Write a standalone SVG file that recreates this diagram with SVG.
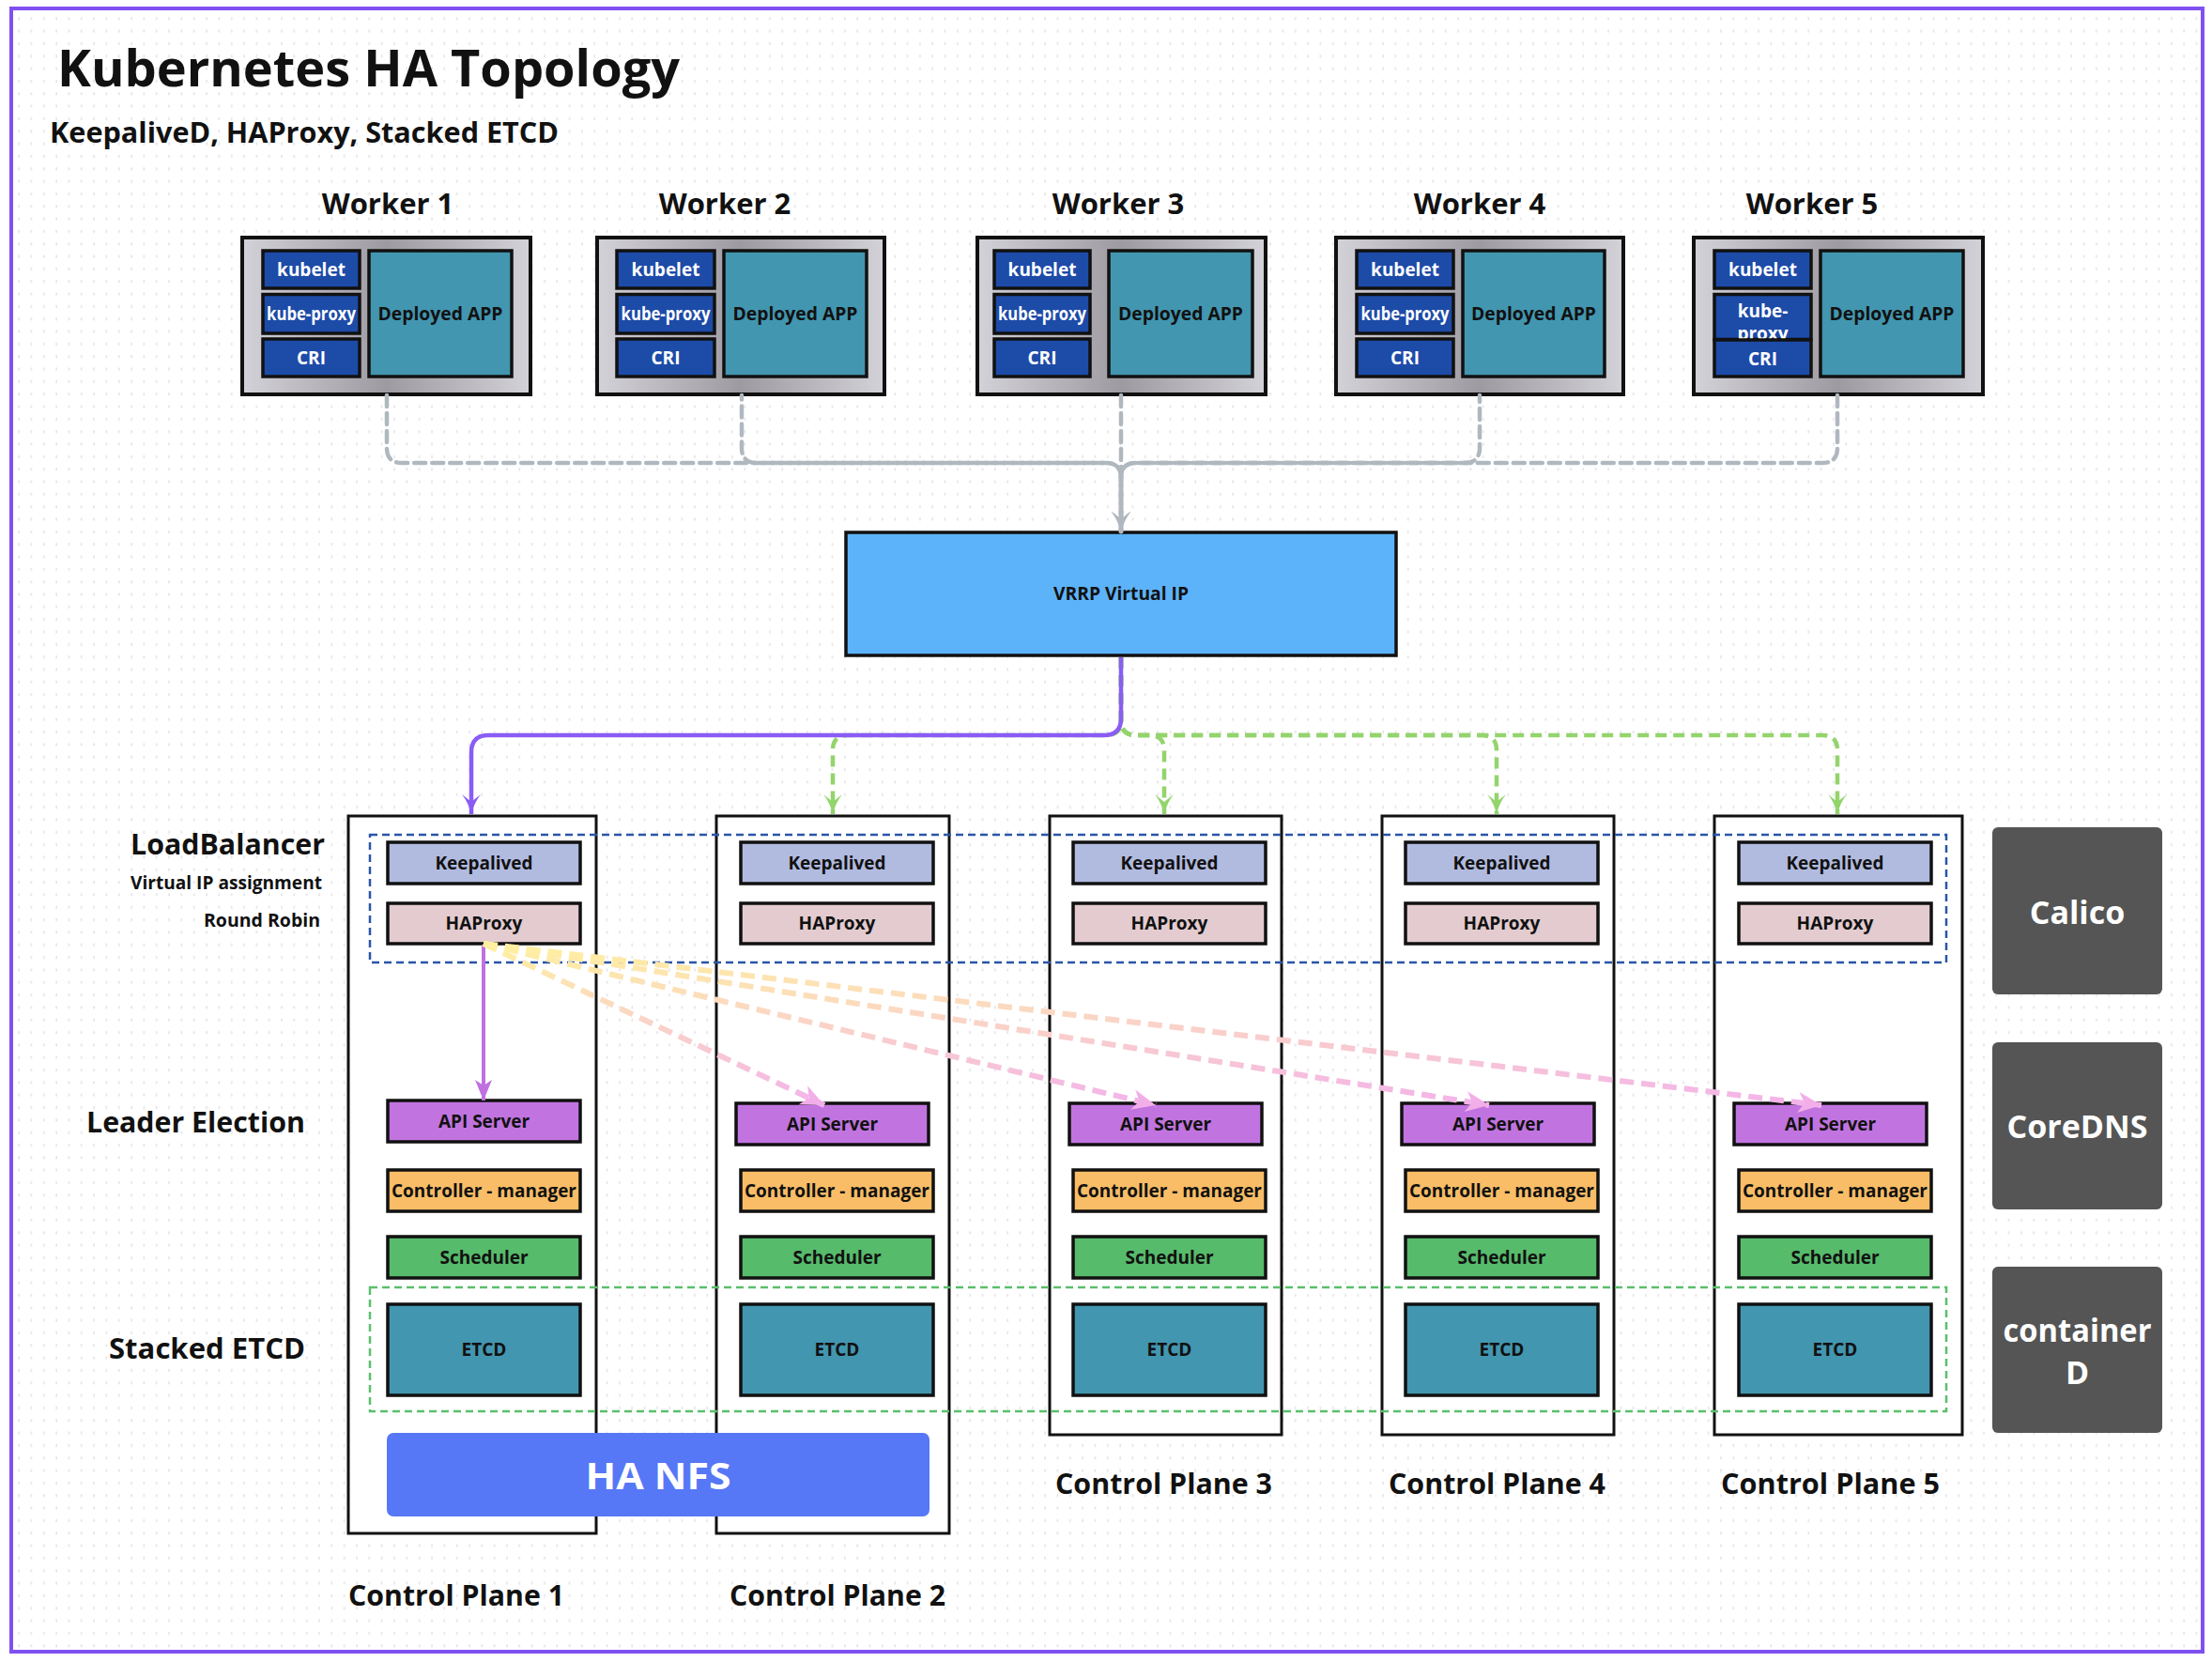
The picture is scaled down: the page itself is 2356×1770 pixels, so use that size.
<svg xmlns="http://www.w3.org/2000/svg" width="2356" height="1770" viewBox="0 0 2356 1770">
<defs>
<style>
text{font-family:"Open Sans","Noto Sans","DejaVu Sans",sans-serif;font-weight:700;fill:#111}
.c{text-anchor:middle}
.r{text-anchor:end}
.wbox{fill:url(#silver);stroke:#111;stroke-width:4}
.kb{fill:#1d4ba8;stroke:#111;stroke-width:3.5}
.app{fill:#4296b0;stroke:#111;stroke-width:3.5}
.wt{fill:#fff;font-size:19px}
.at{font-size:19px}
.cp{fill:#fff;stroke:#111;stroke-width:3}
.ka{fill:#b1bbe0;stroke:#111;stroke-width:3.5}
.hp{fill:#e3cbcf;stroke:#111;stroke-width:3.5}
.api{fill:#c174e0;stroke:#111;stroke-width:3.5}
.cm{fill:#f8bd66;stroke:#111;stroke-width:3.5}
.sc{fill:#56bb6b;stroke:#111;stroke-width:3.5}
.et{fill:#4296b0;stroke:#111;stroke-width:3.5}
.ct{font-size:19px}
.side{fill:#555;}
.st{fill:#fff;font-size:34px}
.lbl{font-size:31px}
.grey{fill:none;stroke:#b0b8bf;stroke-width:4.5;stroke-dasharray:12 7;stroke-linecap:round}
.green{fill:none;stroke:#93d46c;stroke-width:4.5;stroke-dasharray:12 7}
.purple{fill:none;stroke:#8a5cf5;stroke-width:4.5}
.lb{fill:none;stroke:#c070e0;stroke-width:4}
.pk{fill:none;stroke-width:6;stroke-dasharray:15 8}
</style>
<pattern id="dots" x="0" y="0" width="13.33" height="13.33" patternUnits="userSpaceOnUse">
<rect x="6" y="5" width="1.6" height="3" fill="#e3e3e8"/>
</pattern>
<linearGradient id="silver" x1="0" y1="0" x2="1" y2="0">
<stop offset="0" stop-color="#d3d2d8"/>
<stop offset="0.5" stop-color="#9e9aa1"/>
<stop offset="1" stop-color="#d3d2d8"/>
</linearGradient>
<linearGradient id="g2" gradientUnits="userSpaceOnUse" x1="515" y1="1005" x2="878" y2="1177">
<stop offset="0" stop-color="#fff0a0"/><stop offset="0.45" stop-color="#fbd6c4"/><stop offset="1" stop-color="#f3b3ea"/>
</linearGradient>
<linearGradient id="g3" gradientUnits="userSpaceOnUse" x1="515" y1="1005" x2="1231" y2="1177">
<stop offset="0" stop-color="#fff0a0"/><stop offset="0.45" stop-color="#fbd6c4"/><stop offset="1" stop-color="#f3b3ea"/>
</linearGradient>
<linearGradient id="g4" gradientUnits="userSpaceOnUse" x1="515" y1="1005" x2="1586" y2="1177">
<stop offset="0" stop-color="#fff0a0"/><stop offset="0.45" stop-color="#fbd6c4"/><stop offset="1" stop-color="#f3b3ea"/>
</linearGradient>
<linearGradient id="g5" gradientUnits="userSpaceOnUse" x1="515" y1="1005" x2="1940" y2="1177">
<stop offset="0" stop-color="#fff0a0"/><stop offset="0.45" stop-color="#fbd6c4"/><stop offset="1" stop-color="#f3b3ea"/>
</linearGradient>
<marker id="agrey" markerUnits="userSpaceOnUse" markerWidth="26" markerHeight="26" viewBox="-23 -13 26 26" refX="0" refY="0" orient="auto">
<path d="M0,0 Q-12,-3 -21,-10 L-13,0 L-21,10 Q-12,3 0,0 Z" fill="#b0b8bf"/>
</marker>
<marker id="agreen" markerUnits="userSpaceOnUse" markerWidth="26" markerHeight="26" viewBox="-23 -13 26 26" refX="0" refY="0" orient="auto">
<path d="M0,0 Q-12,-3 -21,-10 L-13,0 L-21,10 Q-12,3 0,0 Z" fill="#93d46c"/>
</marker>
<marker id="apurple" markerUnits="userSpaceOnUse" markerWidth="26" markerHeight="26" viewBox="-23 -13 26 26" refX="0" refY="0" orient="auto">
<path d="M0,0 Q-12,-3 -21,-10 L-13,0 L-21,10 Q-12,3 0,0 Z" fill="#8a5cf5"/>
</marker>
<marker id="alb" markerUnits="userSpaceOnUse" markerWidth="26" markerHeight="26" viewBox="-23 -13 26 26" refX="0" refY="0" orient="auto">
<path d="M0,0 L-22,-9 L-16,0 L-22,9 Z" fill="#c070e0"/>
</marker>
<marker id="apink" markerUnits="userSpaceOnUse" markerWidth="30" markerHeight="30" viewBox="-27 -15 30 30" refX="0" refY="0" orient="auto">
<path d="M0,0 L-25,-11 L-18,0 L-25,11 Z" fill="#f2aee9"/>
</marker>
</defs>

<rect x="0" y="0" width="2356" height="1770" fill="#fff"/>
<rect x="12" y="9" width="2334" height="1750" fill="url(#dots)"/>
<rect x="12" y="9" width="2334" height="1750" fill="none" stroke="#7f50f2" stroke-width="4"/>

<g id="titles">
<text x="61" y="92" font-size="54" textLength="663" lengthAdjust="spacingAndGlyphs">Kubernetes HA Topology</text>
<text x="53" y="152" font-size="30" textLength="542" lengthAdjust="spacingAndGlyphs">KeepaliveD, HAProxy, Stacked ETCD</text>
</g>

<g id="worker-labels">
<text class="c lbl" x="413" y="228">Worker 1</text>
<text class="c lbl" x="772" y="228">Worker 2</text>
<text class="c lbl" x="1191" y="228">Worker 3</text>
<text class="c lbl" x="1576" y="228">Worker 4</text>
<text class="c lbl" x="1930" y="228">Worker 5</text>
</g>

<g id="worker1">
<rect class="wbox" x="258" y="253" width="307" height="167"/>
<rect class="kb" x="280" y="267" width="103" height="40"/>
<rect class="kb" x="280" y="313.5" width="103" height="41.5"/>
<rect class="kb" x="280" y="361" width="103" height="40"/>
<rect class="app" x="393" y="267" width="152" height="134"/>
<text class="c wt" x="331.5" y="294">kubelet</text>
<text class="c wt" x="331.5" y="341" textLength="95" lengthAdjust="spacingAndGlyphs">kube-proxy</text>
<text class="c wt" x="331.5" y="388">CRI</text>
<text class="c at" x="469" y="341" textLength="133" lengthAdjust="spacingAndGlyphs">Deployed APP</text>
</g>
<g id="worker2">
<rect class="wbox" x="636" y="253" width="306" height="167"/>
<rect class="kb" x="657" y="267" width="104" height="40"/>
<rect class="kb" x="657" y="313.5" width="104" height="41.5"/>
<rect class="kb" x="657" y="361" width="104" height="40"/>
<rect class="app" x="771" y="267" width="152" height="134"/>
<text class="c wt" x="709" y="294">kubelet</text>
<text class="c wt" x="709" y="341" textLength="95" lengthAdjust="spacingAndGlyphs">kube-proxy</text>
<text class="c wt" x="709" y="388">CRI</text>
<text class="c at" x="847" y="341" textLength="133" lengthAdjust="spacingAndGlyphs">Deployed APP</text>
</g>
<g id="worker3">
<rect class="wbox" x="1041" y="253" width="307" height="167"/>
<rect class="kb" x="1059" y="267" width="102" height="40"/>
<rect class="kb" x="1059" y="313.5" width="102" height="41.5"/>
<rect class="kb" x="1059" y="361" width="102" height="40"/>
<rect class="app" x="1181" y="267" width="153" height="134"/>
<text class="c wt" x="1110" y="294">kubelet</text>
<text class="c wt" x="1110" y="341" textLength="94" lengthAdjust="spacingAndGlyphs">kube-proxy</text>
<text class="c wt" x="1110" y="388">CRI</text>
<text class="c at" x="1257.5" y="341" textLength="133" lengthAdjust="spacingAndGlyphs">Deployed APP</text>
</g>
<g id="worker4">
<rect class="wbox" x="1423" y="253" width="306" height="167"/>
<rect class="kb" x="1445" y="267" width="103" height="40"/>
<rect class="kb" x="1445" y="313.5" width="103" height="41.5"/>
<rect class="kb" x="1445" y="361" width="103" height="40"/>
<rect class="app" x="1558" y="267" width="151" height="134"/>
<text class="c wt" x="1496.5" y="294">kubelet</text>
<text class="c wt" x="1496.5" y="341" textLength="94" lengthAdjust="spacingAndGlyphs">kube-proxy</text>
<text class="c wt" x="1496.5" y="388">CRI</text>
<text class="c at" x="1633.5" y="341" textLength="133" lengthAdjust="spacingAndGlyphs">Deployed APP</text>
</g>
<g id="worker5">
<rect class="wbox" x="1804" y="253" width="308" height="167"/>
<rect class="kb" x="1826" y="267" width="103" height="40"/>
<rect class="kb" x="1826" y="313.5" width="103" height="48"/>
<text class="c wt" x="1877.5" y="294">kubelet</text>
<text class="c wt" x="1877.5" y="338">kube-</text>
<text class="c wt" x="1877.5" y="362">proxy</text>
<rect class="kb" x="1826" y="362" width="103" height="39"/>
<text class="c wt" x="1877.5" y="389">CRI</text>
<rect class="app" x="1939" y="267" width="152" height="134"/>
<text class="c at" x="2015" y="341" textLength="133" lengthAdjust="spacingAndGlyphs">Deployed APP</text>
</g>

<g id="vrrp">
<rect x="901" y="567" width="586" height="131" fill="#5cb3f9" stroke="#111" stroke-width="3.5"/>
<text class="c" x="1194" y="639" font-size="19" textLength="144" lengthAdjust="spacingAndGlyphs">VRRP Virtual IP</text>
</g>

<g id="side-labels">
<text class="r" x="346" y="910" font-size="31" textLength="207" lengthAdjust="spacingAndGlyphs">LoadBalancer</text>
<text class="r" x="343" y="947" font-size="20" textLength="204" lengthAdjust="spacingAndGlyphs">Virtual IP assignment</text>
<text class="r" x="341" y="987" font-size="20" textLength="124" lengthAdjust="spacingAndGlyphs">Round Robin</text>
<text x="92" y="1206" font-size="31" textLength="233" lengthAdjust="spacingAndGlyphs">Leader Election</text>
<text x="116" y="1447" font-size="31" textLength="209" lengthAdjust="spacingAndGlyphs">Stacked ETCD</text>
</g>

<g id="control-plane-1">
<rect class="cp" x="371" y="869" width="264" height="764"/>
</g>
<g id="control-plane-2">
<rect class="cp" x="763" y="869" width="248" height="764"/>
</g>
<g id="control-plane-3">
<rect class="cp" x="1118" y="869" width="247" height="659"/>
</g>
<g id="control-plane-4">
<rect class="cp" x="1472" y="869" width="247" height="659"/>
</g>
<g id="control-plane-5">
<rect class="cp" x="1826" y="869" width="264" height="659"/>
</g>

<g id="groups">
<rect x="394" y="889" width="1679" height="136" fill="none" stroke="#2a55a8" stroke-width="2.5" stroke-dasharray="8 5"/>
<rect x="394" y="1371" width="1679" height="132" fill="none" stroke="#5abf6b" stroke-width="2.5" stroke-dasharray="8 5"/>
</g>

<g id="cp1-components">
<rect class="ka" x="413" y="897" width="205" height="44"/><text class="c ct" x="515.5" y="926">Keepalived</text>
<rect class="hp" x="413" y="962" width="205" height="43"/><text class="c ct" x="515.5" y="990">HAProxy</text>
<rect class="api" x="413" y="1172" width="205" height="44"/><text class="c ct" x="515.5" y="1201">API Server</text>
<rect class="cm" x="413" y="1246" width="205" height="44"/><text class="c ct" x="515.5" y="1275" textLength="197" lengthAdjust="spacingAndGlyphs">Controller - manager</text>
<rect class="sc" x="413" y="1317" width="205" height="44"/><text class="c ct" x="515.5" y="1346">Scheduler</text>
<rect class="et" x="413" y="1389" width="205" height="97"/><text class="c ct" x="515.5" y="1444">ETCD</text>
</g>
<g id="cp2-components">
<rect class="ka" x="789" y="897" width="205" height="44"/><text class="c ct" x="891.5" y="926">Keepalived</text>
<rect class="hp" x="789" y="962" width="205" height="43"/><text class="c ct" x="891.5" y="990">HAProxy</text>
<rect class="api" x="784" y="1175" width="205" height="44"/><text class="c ct" x="886.5" y="1204">API Server</text>
<rect class="cm" x="789" y="1246" width="205" height="44"/><text class="c ct" x="891.5" y="1275" textLength="197" lengthAdjust="spacingAndGlyphs">Controller - manager</text>
<rect class="sc" x="789" y="1317" width="205" height="44"/><text class="c ct" x="891.5" y="1346">Scheduler</text>
<rect class="et" x="789" y="1389" width="205" height="97"/><text class="c ct" x="891.5" y="1444">ETCD</text>
</g>
<g id="cp3-components">
<rect class="ka" x="1143" y="897" width="205" height="44"/><text class="c ct" x="1245.5" y="926">Keepalived</text>
<rect class="hp" x="1143" y="962" width="205" height="43"/><text class="c ct" x="1245.5" y="990">HAProxy</text>
<rect class="api" x="1139" y="1175" width="205" height="44"/><text class="c ct" x="1241.5" y="1204">API Server</text>
<rect class="cm" x="1143" y="1246" width="205" height="44"/><text class="c ct" x="1245.5" y="1275" textLength="197" lengthAdjust="spacingAndGlyphs">Controller - manager</text>
<rect class="sc" x="1143" y="1317" width="205" height="44"/><text class="c ct" x="1245.5" y="1346">Scheduler</text>
<rect class="et" x="1143" y="1389" width="205" height="97"/><text class="c ct" x="1245.5" y="1444">ETCD</text>
</g>
<g id="cp4-components">
<rect class="ka" x="1497" y="897" width="205" height="44"/><text class="c ct" x="1599.5" y="926">Keepalived</text>
<rect class="hp" x="1497" y="962" width="205" height="43"/><text class="c ct" x="1599.5" y="990">HAProxy</text>
<rect class="api" x="1493" y="1175" width="205" height="44"/><text class="c ct" x="1595.5" y="1204">API Server</text>
<rect class="cm" x="1497" y="1246" width="205" height="44"/><text class="c ct" x="1599.5" y="1275" textLength="197" lengthAdjust="spacingAndGlyphs">Controller - manager</text>
<rect class="sc" x="1497" y="1317" width="205" height="44"/><text class="c ct" x="1599.5" y="1346">Scheduler</text>
<rect class="et" x="1497" y="1389" width="205" height="97"/><text class="c ct" x="1599.5" y="1444">ETCD</text>
</g>
<g id="cp5-components">
<rect class="ka" x="1852" y="897" width="205" height="44"/><text class="c ct" x="1954.5" y="926">Keepalived</text>
<rect class="hp" x="1852" y="962" width="205" height="43"/><text class="c ct" x="1954.5" y="990">HAProxy</text>
<rect class="api" x="1847" y="1175" width="205" height="44"/><text class="c ct" x="1949.5" y="1204">API Server</text>
<rect class="cm" x="1852" y="1246" width="205" height="44"/><text class="c ct" x="1954.5" y="1275" textLength="197" lengthAdjust="spacingAndGlyphs">Controller - manager</text>
<rect class="sc" x="1852" y="1317" width="205" height="44"/><text class="c ct" x="1954.5" y="1346">Scheduler</text>
<rect class="et" x="1852" y="1389" width="205" height="97"/><text class="c ct" x="1954.5" y="1444">ETCD</text>
</g>

<g id="ha-nfs">
<rect x="412" y="1526" width="578" height="89" rx="7" fill="#5677f6"/>
<text class="c" x="701" y="1586" font-size="40" style="fill:#fff" textLength="155" lengthAdjust="spacingAndGlyphs">HA NFS</text>
</g>

<g id="calico">
<rect class="side" x="2122" y="881" width="181" height="178" rx="6"/>
<text class="c st" x="2212.5" y="984">Calico</text>
</g>
<g id="coredns">
<rect class="side" x="2122" y="1110" width="181" height="178" rx="6"/>
<text class="c st" x="2212.5" y="1212" textLength="150" lengthAdjust="spacingAndGlyphs">CoreDNS</text>
</g>
<g id="containerd">
<rect class="side" x="2122" y="1349" width="181" height="177" rx="6"/>
<text class="c st" x="2212.5" y="1429" textLength="158" lengthAdjust="spacingAndGlyphs">container</text>
<text class="c st" x="2212.5" y="1474">D</text>
</g>

<g id="cp-labels">
<text x="371" y="1710" class="lbl" textLength="230" lengthAdjust="spacingAndGlyphs">Control Plane 1</text>
<text x="777" y="1710" class="lbl" textLength="230" lengthAdjust="spacingAndGlyphs">Control Plane 2</text>
<text x="1124" y="1591" class="lbl" textLength="231" lengthAdjust="spacingAndGlyphs">Control Plane 3</text>
<text x="1479" y="1591" class="lbl" textLength="231" lengthAdjust="spacingAndGlyphs">Control Plane 4</text>
<text x="1833" y="1591" class="lbl" textLength="233" lengthAdjust="spacingAndGlyphs">Control Plane 5</text>
</g>

<g id="connectors">
<path class="grey" d="M412,421 V477 Q412,493 428,493 H1178 Q1194,493 1194,509 V566" marker-end="url(#agrey)"/>
<path class="grey" stroke-dashoffset="7.5" d="M790,421 V477 Q790,493 806,493 H1178 Q1194,493 1194,509 V566" marker-end="url(#agrey)"/>
<path class="grey" d="M1194,421 V566" marker-end="url(#agrey)"/>
<path class="grey" stroke-dashoffset="5" d="M1576,421 V477 Q1576,493 1560,493 H1210 Q1194,493 1194,509 V566" marker-end="url(#agrey)"/>
<path class="grey" d="M1957,421 V477 Q1957,493 1941,493 H1210 Q1194,493 1194,509 V566" marker-end="url(#agrey)"/>

<path class="green" d="M1194,700 V767 Q1194,783 1178,783 H903 Q887,783 887,799 V867" marker-end="url(#agreen)"/>
<path class="green" d="M1194,700 V767 Q1194,783 1210,783 H1224 Q1240,783 1240,799 V867" marker-end="url(#agreen)"/>
<path class="green" d="M1194,700 V767 Q1194,783 1210,783 H1578 Q1594,783 1594,799 V867" marker-end="url(#agreen)"/>
<path class="green" d="M1194,700 V767 Q1194,783 1210,783 H1941 Q1957,783 1957,799 V867" marker-end="url(#agreen)"/>
<path class="purple" d="M1194,700 V765 Q1194,783 1176,783 H520 Q502,783 502,801 V867" marker-end="url(#apurple)"/>

<path class="lb" d="M515,1006 V1172" marker-end="url(#alb)"/>
<path class="pk" stroke="url(#g2)" d="M515,1005 L878,1177" marker-end="url(#apink)"/>
<path class="pk" stroke="url(#g3)" d="M515,1005 L1231,1177" marker-end="url(#apink)"/>
<path class="pk" stroke="url(#g4)" d="M515,1005 L1586,1177" marker-end="url(#apink)"/>
<path class="pk" stroke="url(#g5)" d="M515,1005 L1940,1177" marker-end="url(#apink)"/>
</g>
</svg>
